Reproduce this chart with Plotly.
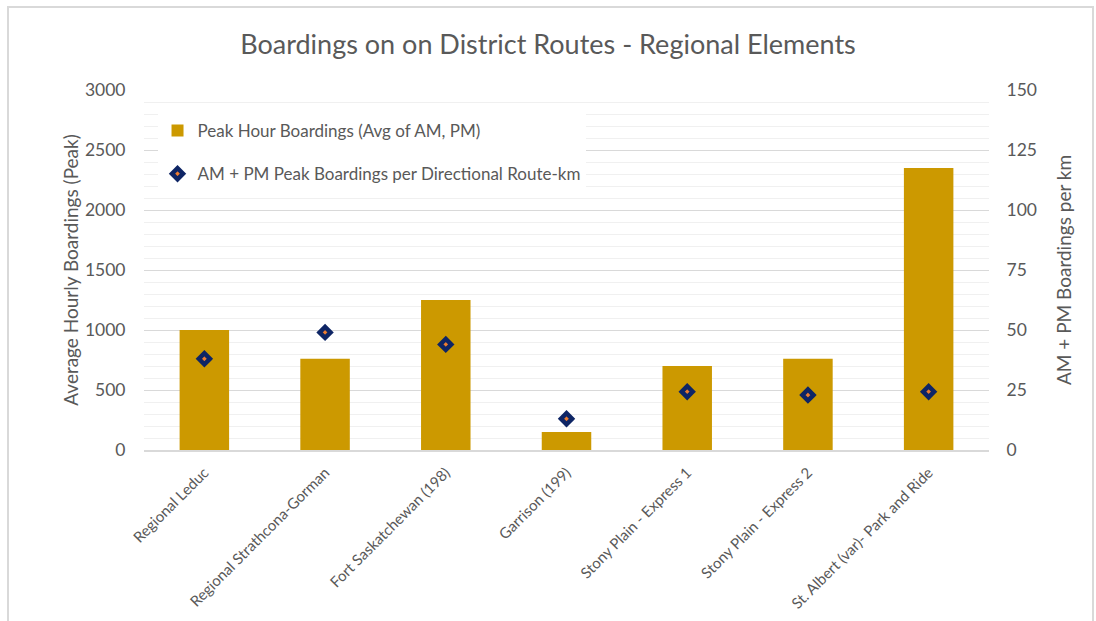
import plotly.graph_objects as go

categories = ["Regional Leduc", "Regional Strathcona-Gorman", "Fort Saskatchewan (198)",
              "Garrison (199)", "Stony Plain - Express 1", "Stony Plain - Express 2",
              "St. Albert (var)- Park and Ride"]
peak_hour_boardings = [1000, 760, 1250, 150, 700, 760, 2350]
boardings_per_km = [38, 49, 44, 13, 24.3, 22.9, 24.3]
left_ticks = [0, 500, 1000, 1500, 2000, 2500, 3000]
right_ticks = [0, 25, 50, 75, 100, 125, 150]

FONT = "Lato"
TXT = "#595959"

fig = go.Figure()
fig.add_trace(go.Bar(
    x=categories, y=peak_hour_boardings,
    name="Peak Hour Boardings (Avg of AM, PM)",
    marker=dict(color="#CC9900", line=dict(width=0)),
    width=0.41, legendgroup="a", yaxis="y",
))
fig.add_trace(go.Scatter(
    x=categories, y=boardings_per_km, mode="markers",
    name="AM + PM Peak Boardings per Directional Route-km",
    marker=dict(symbol="diamond", size=8.5, color="#ED7D31",
                line=dict(color="#0E2565", width=4.5)),
    legendgroup="b", yaxis="y2",
))

fig.update_layout(
    width=1096, height=621,
    margin=dict(l=144, r=107, t=90, b=171),
    paper_bgcolor="white", plot_bgcolor="white",
    font=dict(family=FONT, color=TXT, size=15),
    title=dict(text="Boardings on on District Routes - Regional Elements",
               x=0.5, xanchor="center", y=1 - 45 / 621, yanchor="middle",
               font=dict(size=27, color=TXT, family=FONT)),
    showlegend=True,
    legend=dict(x=0.016, y=0.936, xanchor="left", yanchor="top",
                bgcolor="white", font=dict(size=17, color=TXT, family=FONT),
                tracegroupgap=18, itemwidth=30),
    bargap=0.59,
    xaxis=dict(tickangle=-45, tickfont=dict(size=15, color=TXT), automargin=False,
               showline=True, linecolor="#d9d9d9", linewidth=2,
               showgrid=False, ticks="outside", ticklen=6, tickcolor="rgba(0,0,0,0)"),
    yaxis=dict(range=[0, 3000], tickvals=left_ticks, automargin=False,
               showgrid=True, gridcolor="#d9d9d9", gridwidth=1,
               minor=dict(dtick=100, showgrid=True, gridcolor="#f0f0f0", gridwidth=1),
               zeroline=False, ticks="outside", ticklen=14, tickcolor="rgba(0,0,0,0)",
               title=dict(text="Average Hourly Boardings (Peak)", font=dict(size=19, color=TXT),
                          standoff=1),
               tickfont=dict(size=17.5, color=TXT)),
    yaxis2=dict(range=[0, 150], tickvals=right_ticks, overlaying="y", side="right",
                automargin=False,
                showgrid=False, zeroline=False, ticks="outside", ticklen=13,
                tickcolor="rgba(0,0,0,0)",
                title=dict(text="AM + PM Boardings per km", font=dict(size=19, color=TXT),
                           standoff=21),
                tickfont=dict(size=17.5, color=TXT)),
    shapes=[dict(type="rect", xref="paper", yref="paper",
                 x0=(8 - 144) / 845, x1=(1093 - 144) / 845,
                 y0=(450 - 640) / 360, y1=(450 - 7) / 360,
                 line=dict(color="#d9d9d9", width=2), fillcolor="rgba(0,0,0,0)", layer="below")],
)

fig.write_html("out.html", config={"displayModeBar": False},
               post_script="document.body.style.margin='0';document.body.style.padding='0';")
